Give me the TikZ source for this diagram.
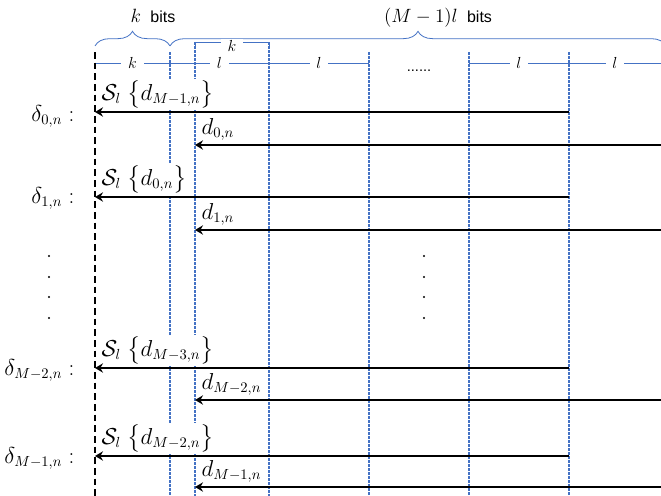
\documentclass[tikz,border=0pt,11pt]{standalone}
\usepackage{amsmath}
\usepackage[no-math]{fontspec}
\newfontfamily\sansf{Liberation Sans}
\usetikzlibrary{arrows.meta, decorations.pathreplacing}
\definecolor{lblue}{RGB}{68,114,196}

\begin{document}
\begin{tikzpicture}[x=0.75pt, y=-0.75pt,
        grid/.style={lblue, line width=0.9pt, dash pattern=on 2pt off 1pt},
        dim/.style={lblue, line width=0.6pt},
        lab/.style={fill=white, text=black, inner xsep=5pt, inner ysep=1pt, font=\large},
        sig/.style={line width=1.8pt, -{Stealth[length=6pt, width=7pt, inset=2pt]}},
        row/.style={fill=white, inner sep=1pt, anchor=south west, font=\fontsize{16}{21}\selectfont},
        del/.style={anchor=base east, inner sep=1pt, font=\fontsize{16}{21}\selectfont},
        top/.style={anchor=base, font=\fontsize{14}{16}\selectfont},
        brc/.style={lblue, line width=0.6pt, decorate, decoration={brace, amplitude=11pt}}]
    \useasboundingbox (0,0) rectangle (661,496);
    % columns
    \coordinate (A) at (95,52); \coordinate (B) at (170,52); \coordinate (C) at (195,42);
    \coordinate (E) at (269,42); \coordinate (F) at (369,52); \coordinate (G) at (469,52);
    \coordinate (H) at (569,52);
    \draw[grid] (B) -- (170,496); \draw[grid] (C) -- (195,496); \draw[grid] (E) -- (269,496);
    \draw[grid] (F) -- (369,496); \draw[grid] (G) -- (469,496); \draw[grid] (H) -- (569,496);
    % bit widths
    \draw[brc] (95,46) -- (170,46);
    \draw[brc] (170,46) -- (666,46);
    \node[top] (kb) at (153,22) {$k$\hspace{7pt}{\fontsize{12}{14}\sansf bits}};
    \node[top] (lb) at (438,22) {$(M-1)l$\hspace{7pt}{\fontsize{12}{14}\sansf bits}};
    \draw[dim] (195,47) -- (C) -- node[lab, yshift=-3pt]{$k$} (E) -- (269,47);
    \draw[dim] (95,63) -- node[lab]{$k$} (170,63);
    \draw[dim] (170,63) -- node[lab]{$l$} (269,63);
    \draw[dim] (269,63) -- node[lab]{$l$} (369,63);
    \draw[dim] (469,63) -- node[lab]{$l$} (569,63);
    \draw[dim] (569,63) -- node[lab]{$l$} (661,63);
    \node[anchor=base] (dots) at (419,71) {\sansf ......};
    % rows
    \node[row] (s0) at (100,110) {$\mathcal{S}_l\;\bigl\{d_{M-1,n}\bigr\}$};
    \node[row] (d0) at (200,142) {$d_{0,n}$};
    \node[row] (s1) at (100,195) {$\mathcal{S}_l\;\bigl\{d_{0,n}\bigr\}$};
    \node[row] (d1) at (200,227) {$d_{1,n}$};
    \node[row] (s2) at (100,366) {$\mathcal{S}_l\;\bigl\{d_{M-3,n}\bigr\}$};
    \node[row] (d2) at (200,397) {$d_{M-2,n}$};
    \node[row] (s3) at (100,454) {$\mathcal{S}_l\;\bigl\{d_{M-2,n}\bigr\}$};
    \node[row] (d3) at (200,484) {$d_{M-1,n}$};
    \node[del] (r0) at (76,121) {$\delta_{0,n}\ {:}$};
    \node[del] (r1) at (76,203) {$\delta_{1,n}\ {:}$};
    \node[del] (r2) at (76,375) {$\delta_{M-2,n}\ {:}$};
    \node[del] (r3) at (76,463) {$\delta_{M-1,n}\ {:}$};
    \fill (49,256) circle (0.8pt); \fill (49,277) circle (0.8pt); \fill (49,297) circle (0.8pt); \fill (49,318) circle (0.8pt);
    \fill (424,256) circle (0.8pt); \fill (424,277) circle (0.8pt); \fill (424,297) circle (0.8pt); \fill (424,318) circle (0.8pt);
    \draw[line width=2pt, dash pattern=on 5pt off 3pt] (A) -- (95,496);
    \draw[sig] (569,112) -- (95,112);
    \draw[sig] (661,145) -- (195,145);
    \draw[sig] (569,197) -- (95,197);
    \draw[sig] (661,230) -- (195,230);
    \draw[sig] (569,368) -- (95,368);
    \draw[sig] (661,400) -- (195,400);
    \draw[sig] (569,456) -- (95,456);
    \draw[sig] (661,487) -- (195,487);
\end{tikzpicture}
\end{document}
